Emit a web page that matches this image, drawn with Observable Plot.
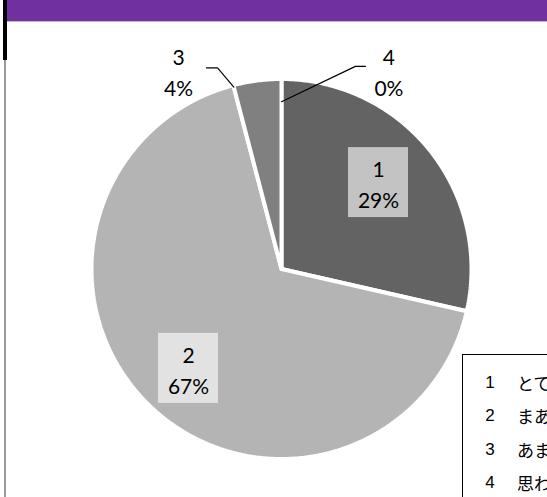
<!DOCTYPE html>
<html>
<head>
<meta charset="utf-8">
<script src="https://cdn.jsdelivr.net/npm/d3@7"></script>
<script src="https://cdn.jsdelivr.net/npm/@observablehq/plot@0.6"></script>
<style>
  html, body { margin: 0; padding: 0; background: #fff; }
  #frame { position: relative; width: 547px; height: 497px; overflow: hidden; background: #fff; }
  #bar { position: absolute; left: 7px; top: 0; width: 540px; height: 21px; background: #7030a0; }
  #topline { position: absolute; left: 4px; top: 21px; width: 543px; height: 1px; background: #bfbfbf; }
  #leftline { position: absolute; left: 4px; top: 21px; width: 2px; height: 476px; background: #9a9a9a; }
  #blk { position: absolute; left: 3px; top: 0; width: 4px; height: 60px; background: #000; }
  #chart { position: absolute; left: 0; top: 0; }
  #legend { position: absolute; left: 462px; top: 354px; width: 200px; height: 200px; border: 1px solid #000;
            background: #fff; font-family: "Noto Sans CJK JP", sans-serif; font-size: 17px; color: #000; }
  .row { position: absolute; left: 0; white-space: nowrap; height: 20px; line-height: 20px; }
  .num { position: absolute; left: 20px; width: 14px; text-align: center; font-family: "Liberation Sans", sans-serif; font-size: 17px; }
  .lab { position: absolute; left: 54px; }
</style>
</head>
<body>
<div id="frame">
  <div id="bar"></div>
  <div id="topline"></div>
  <div id="leftline"></div>
  <div id="blk"></div>
  <div id="chart"></div>
  <div id="legend"></div>
</div>
<script>
// ---- data ----
const categories = ["1", "2", "3", "4"];
const counts = [14, 33, 2, 0];
const legendLabels = ["とてもそう思う", "まあそう思う", "あまりそう思わない", "思わない"];

// ---- styles / layout ----
const sliceColors = ["#636363", "#b4b4b4", "#808080", "#4a4a4a"];
const PX = 188; // pixels per data unit (pie radius)
const labelLayout = [
  {a: 48.3, r: 0.691, box: true},
  {a: 223.1, r: 0.724, box: true},
  {a: 332.6, r: 1.19, box: false, lead: {sx: 28, ex: 39, dy: -2.5, onStart: true, rr: 1.0}},
  {a: 28.4, r: 1.201, box: false, lead: {sx: -23.5, ex: -33.5, dy: -4, onStart: false, rr: 0.89}}
];

const total = d3.sum(counts);
const pct = counts.map(c => Math.round(c / total * 100) + "%");
const pie = d3.pie().sort(null).startAngle(0).endAngle(2 * Math.PI)(counts);

// slice polygons
const rOuter = 1 + 2 / PX;
const polys = [];
pie.forEach((p, i) => {
  if (p.value <= 0) return;
  const key = categories[i];
  polys.push({key, x: 0, y: 0});
  const n = Math.max(2, Math.ceil((p.endAngle - p.startAngle) / (Math.PI / 360)));
  for (let k = 0; k <= n; k++) {
    const a = p.startAngle + (p.endAngle - p.startAngle) * k / n;
    polys.push({key, x: rOuter * Math.sin(a), y: rOuter * Math.cos(a)});
  }
  polys.push({key, x: 0, y: 0});
});

const rad = d => d * Math.PI / 180;
const labels = categories.map((c, i) => {
  const L = labelLayout[i];
  return {key: c, text: c + "\n" + pct[i], x: L.r * Math.sin(rad(L.a)), y: L.r * Math.cos(rad(L.a)), box: L.box};
});
const boxes = labels.filter(d => d.box).map(d => ({
  x1: d.x - 30 / PX, x2: d.x + 30 / PX, y1: d.y - 35 / PX, y2: d.y + 35 / PX
}));
const leaders = [];
labels.forEach((d, i) => {
  const L = labelLayout[i].lead;
  if (!L) return;
  const p = pie[i];
  const ang = L.onStart ? p.startAngle : p.endAngle;
  leaders.push({key: d.key, x: d.x + L.sx / PX, y: d.y - L.dy / PX});
  leaders.push({key: d.key, x: d.x + L.ex / PX, y: d.y - L.dy / PX});
  leaders.push({key: d.key, x: L.rr * Math.sin(ang), y: L.rr * Math.cos(ang)});
});

const chart = Plot.plot({
  width: 547,
  height: 497,
  marginLeft: 93,
  marginRight: 78,
  marginTop: 80.5,
  marginBottom: 40.5,
  x: {domain: [-1, 1], axis: null},
  y: {domain: [-1, 1], axis: null},
  color: {domain: categories, range: sliceColors},
  style: {background: "transparent", overflow: "visible"},
  marks: [
    Plot.line(polys, {x: "x", y: "y", z: "key", fill: "key", stroke: "white", strokeWidth: 4, strokeLinejoin: "miter", curve: "linear"}),
    Plot.line(leaders, {x: "x", y: "y", z: "key", stroke: "#000", strokeWidth: 1.2}),
    Plot.rect(boxes, {x1: "x1", x2: "x2", y1: "y1", y2: "y2", fill: "white", fillOpacity: 0.62}),
    Plot.text(labels, {x: "x", y: "y", text: "text", fontSize: 21, lineHeight: 1.48, fill: "#000",
      fontFamily: "Lato, 'Open Sans', sans-serif"})
  ]
});
document.getElementById("chart").appendChild(chart);

// legend
const leg = document.getElementById("legend");
const rowTops = [18, 51, 85, 118];
categories.forEach((c, i) => {
  const row = document.createElement("div");
  row.className = "row";
  row.style.top = rowTops[i] + "px";
  row.innerHTML = `<span class="num">${c}</span><span class="lab">${legendLabels[i]}</span>`;
  leg.appendChild(row);
});
</script>
</body>
</html>
